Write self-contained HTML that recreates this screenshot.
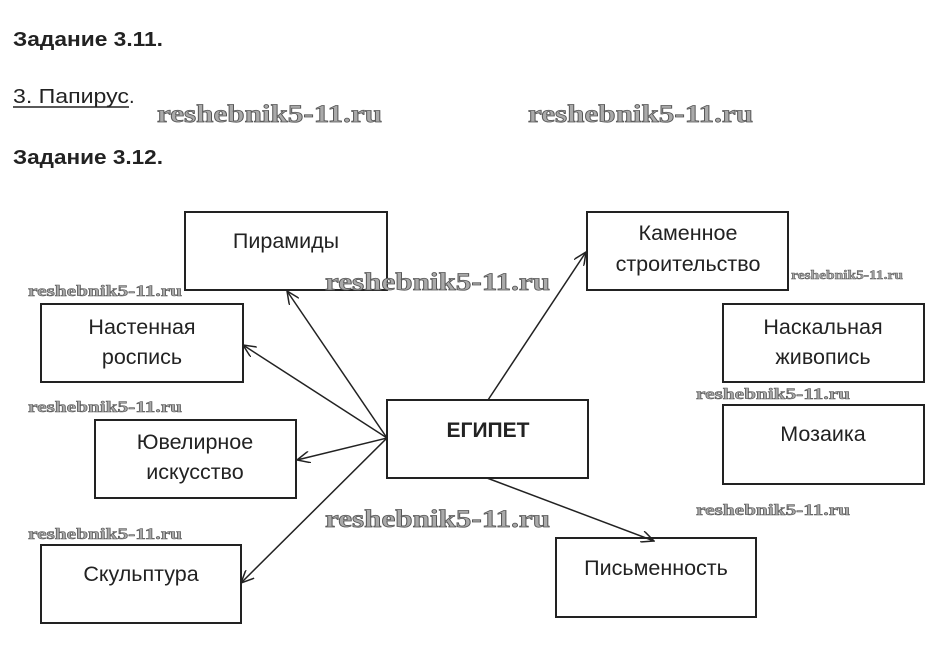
<!DOCTYPE html>
<html><head><meta charset="utf-8"><style>
body{margin:0;background:#fff;width:936px;height:664px;overflow:hidden}
svg{display:block}
.t{font-family:"Liberation Sans",sans-serif;fill:#222}
.w{font-family:"Liberation Serif",serif;font-weight:bold;fill:#aaa;stroke:#555;stroke-width:0.8}
rect{fill:#fff;stroke:#222;stroke-width:2}
line{stroke:#222;stroke-width:1.5}
</style></head><body>
<svg width="936" height="664" viewBox="0 0 936 664">
<defs><marker id="a" markerWidth="14" markerHeight="12" refX="13" refY="6" orient="auto" markerUnits="userSpaceOnUse"><path d="M0,0 L13,6 L0,12" fill="none" stroke="#222" stroke-width="1.5"/></marker></defs>
<text class="t" x="13" y="46" font-size="20" font-weight="bold" textLength="150" lengthAdjust="spacingAndGlyphs">Задание 3.11.</text>
<text class="t" x="13" y="103" font-size="20" fill="#333" textLength="116" lengthAdjust="spacingAndGlyphs">3. Папирус</text>
<text class="t" x="129" y="103" font-size="20">.</text>
<line x1="13" y1="107" x2="129" y2="107" style="stroke:#222;stroke-width:1.5"/>
<text class="t" x="13" y="164" font-size="20" font-weight="bold" textLength="150" lengthAdjust="spacingAndGlyphs">Задание 3.12.</text>

<rect x="185" y="212" width="202" height="78"/>
<rect x="587" y="212" width="201" height="78"/>
<rect x="41" y="304" width="202" height="78"/>
<rect x="723" y="304" width="201" height="78"/>
<rect x="387" y="400" width="201" height="78"/>
<rect x="95" y="420" width="201" height="78"/>
<rect x="723" y="405" width="201" height="79"/>
<rect x="41" y="545" width="200" height="78"/>
<rect x="556" y="538" width="200" height="79"/>

<g class="t" font-size="21.5" text-anchor="middle">
<text x="286" y="248">Пирамиды</text>
<text x="688" y="240">Каменное</text><text x="688" y="271">строительство</text>
<text x="142" y="334">Настенная</text><text x="142" y="364">роспись</text>
<text x="823" y="334">Наскальная</text><text x="823" y="364">живопись</text>
<text x="488" y="437" font-weight="bold" font-size="21">ЕГИПЕТ</text>
<text x="195" y="449">Ювелирное</text><text x="195" y="479">искусство</text>
<text x="823" y="441">Мозаика</text>
<text x="141" y="581">Скульптура</text>
<text x="656" y="575">Письменность</text>
</g>

<line x1="387" y1="438" x2="287" y2="291" marker-end="url(#a)"/>
<line x1="387" y1="438" x2="243" y2="345" marker-end="url(#a)"/>
<line x1="387" y1="438" x2="297" y2="460" marker-end="url(#a)"/>
<line x1="387" y1="438" x2="241" y2="583" marker-end="url(#a)"/>
<line x1="488" y1="400" x2="586" y2="252" marker-end="url(#a)"/>
<line x1="487" y1="478" x2="654" y2="541" marker-end="url(#a)"/>

<g class="w" font-size="25">
<text x="157" y="122" textLength="225" lengthAdjust="spacingAndGlyphs">reshebnik5-11.ru</text>
<text x="528" y="122" textLength="225" lengthAdjust="spacingAndGlyphs">reshebnik5-11.ru</text>
<text x="325" y="290" textLength="225" lengthAdjust="spacingAndGlyphs">reshebnik5-11.ru</text>
<text x="325" y="527" textLength="225" lengthAdjust="spacingAndGlyphs">reshebnik5-11.ru</text>
</g>
<g class="w" font-size="16" style="stroke-width:0.6">
<text x="28" y="296" textLength="154" lengthAdjust="spacingAndGlyphs">reshebnik5-11.ru</text>
<text x="28" y="412" textLength="154" lengthAdjust="spacingAndGlyphs">reshebnik5-11.ru</text>
<text x="28" y="539" textLength="154" lengthAdjust="spacingAndGlyphs">reshebnik5-11.ru</text>
<text x="696" y="399" textLength="154" lengthAdjust="spacingAndGlyphs">reshebnik5-11.ru</text>
<text x="696" y="515" textLength="154" lengthAdjust="spacingAndGlyphs">reshebnik5-11.ru</text>
</g>
<text class="w" x="791" y="279" font-size="13" style="stroke-width:0.5" textLength="112" lengthAdjust="spacingAndGlyphs">reshebnik5-11.ru</text>
</svg>
</body></html>
